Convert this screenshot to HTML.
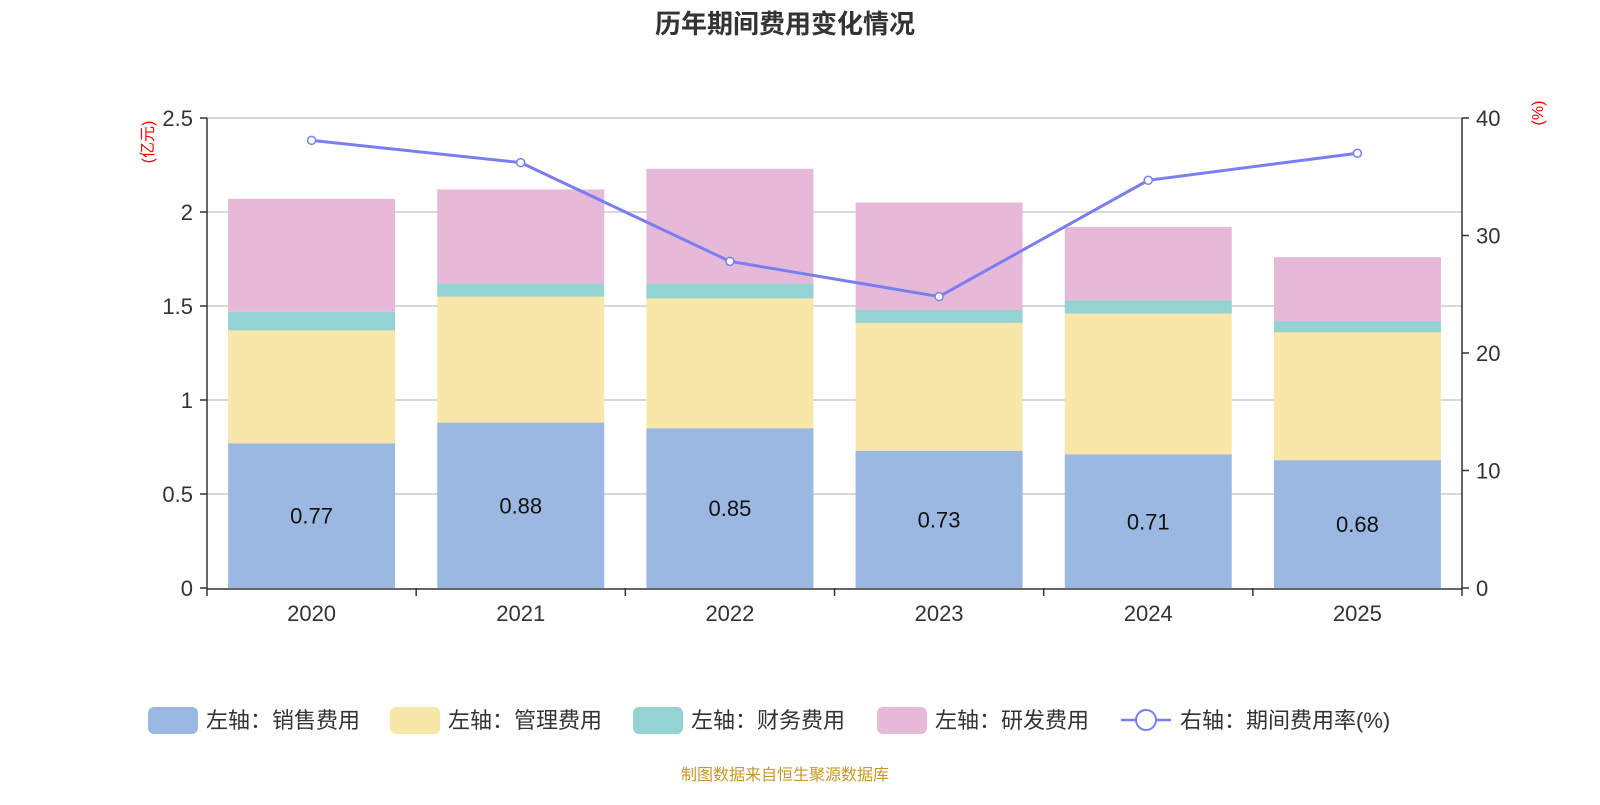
<!DOCTYPE html>
<html><head><meta charset="utf-8"><style>
body{margin:0;background:#fff;}
svg text{font-family:"Liberation Sans","Noto Sans CJK SC",sans-serif;}
</style></head><body>
<svg id="c" width="1600" height="800" xmlns="http://www.w3.org/2000/svg">
<text x="785" y="33" text-anchor="middle" font-size="26" font-weight="bold" fill="#333">历年期间费用变化情况</text>
<g id="grid"></g><g id="bars"></g><g id="axes"></g><g id="line"></g>
<text transform="translate(153,142) rotate(-90)" text-anchor="middle" font-size="16" fill="red">(亿元)</text>
<text transform="translate(1543,113) rotate(-90)" text-anchor="middle" font-size="16" fill="red">(%)</text>
<g id="legend"></g>
<text x="785" y="780" text-anchor="middle" font-size="16" fill="#c8962a">制图数据来自恒生聚源数据库</text>
</svg>
<script>
const years=["2020","2021","2022","2023","2024","2025"];
const sales=[0.77,0.88,0.85,0.73,0.71,0.68];
const mgmt=[0.60,0.67,0.69,0.68,0.75,0.68];
const fin=[0.10,0.07,0.08,0.07,0.07,0.06];
const rd=[0.60,0.50,0.61,0.57,0.39,0.34];
const rate=[38.1,36.2,27.8,24.8,34.7,37.0];
const leftTicks=["0","0.5","1","1.5","2","2.5"];
const rightTicks=["0","10","20","30","40"];
const NS="http://www.w3.org/2000/svg";
const X0=207,X1=1462,Y0=588,Y1=118;
const yL=v=>Y0-(v/2.5)*(Y0-Y1);
const yR=v=>Y0-(v/40)*(Y0-Y1);
const bw=(X1-X0)/years.length;
const xc=i=>X0+bw*(i+0.5);
function mk(t,a,p){const e=document.createElementNS(NS,t);for(const k in a)e.setAttribute(k,a[k]);(p||document.getElementById('c')).appendChild(e);return e;}
const grid=document.getElementById('grid'),axes=document.getElementById('axes'),bars=document.getElementById('bars'),line=document.getElementById('line'),leg=document.getElementById('legend');
leftTicks.forEach(t=>{const y=yL(parseFloat(t));
 if(parseFloat(t)>0){const g=mk('line',{x1:X0,x2:X1,y1:y,y2:y,stroke:'#ccc','stroke-width':1.5},grid);}
 mk('line',{x1:X0-7,x2:X0,y1:y,y2:y,stroke:'#333','stroke-width':1.5},axes);
 const tx=mk('text',{x:X0-14,y:y+8,'text-anchor':'end','font-size':22,fill:'#333'},axes);tx.textContent=t;
 });
rightTicks.forEach(t=>{const y=yR(parseFloat(t));
 mk('line',{x1:X1,x2:X1+7,y1:y,y2:y,stroke:'#333','stroke-width':1.5},axes);
 const tx=mk('text',{x:X1+14,y:y+8,'font-size':22,fill:'#333'},axes);tx.textContent=t;
 });
mk('line',{x1:X0,x2:X0,y1:Y1,y2:Y0,stroke:'#333','stroke-width':1.5},axes);
mk('line',{x1:X1,x2:X1,y1:Y1,y2:Y0,stroke:'#333','stroke-width':1.5},axes);
mk('line',{x1:X0,x2:X1,y1:Y0+1,y2:Y0+1,stroke:'#333','stroke-width':1.5},axes);
for(let i=0;i<=years.length;i++){const x=X0+bw*i;mk('line',{x1:x,x2:x,y1:Y0,y2:Y0+8,stroke:'#333','stroke-width':1.5},axes);}
const series=[[sales,'#9bb8e2','sales'],[mgmt,'#f8e7a9','mgmt'],[fin,'#94d2d3','fin'],[rd,'#e7b9d9','rd']];
const barW=167;
years.forEach((yr,i)=>{let acc=0;
 series.forEach(([arr,col,nm])=>{const y0=yL(acc),y1=yL(acc+arr[i]);
  const r=mk('rect',{x:xc(i)-barW/2,y:y1,width:barW,height:y0-y1,fill:col},bars);
  acc+=arr[i];});
 const lb=mk('text',{x:xc(i),y:(yL(0)+yL(sales[i]))/2+8,'text-anchor':'middle','font-size':22,fill:'#111'},bars);lb.textContent=sales[i].toFixed(2);
 
 const xl=mk('text',{x:xc(i),y:Y0+33,'text-anchor':'middle','font-size':22,fill:'#333'},axes);xl.textContent=yr;
 });
const pl=mk('polyline',{points:rate.map((v,i)=>xc(i)+','+yR(v)).join(' '),fill:'none',stroke:'#7b7ef0','stroke-width':3},line);

rate.forEach((v,i)=>{const c=mk('circle',{cx:xc(i),cy:yR(v),r:4,fill:'#fff',stroke:'#7b7ef0','stroke-width':1.5},line);
 });
const items=[['#9bb8e2','左轴：销售费用',148],['#f8e7a9','左轴：管理费用',390],['#94d2d3','左轴：财务费用',633],['#e7b9d9','左轴：研发费用',877]];
items.forEach(([col,lab,x])=>{const r=mk('rect',{x:x,y:707,width:50,height:27,rx:6,fill:col},leg);
 
 const t=mk('text',{x:x+58,y:728,'font-size':22,fill:'#333'},leg);t.textContent=lab;
 });
mk('line',{x1:1121,x2:1171,y1:720,y2:720,stroke:'#7b7ef0','stroke-width':2.5},leg);
const lc=mk('circle',{cx:1146,cy:720,r:10,fill:'#fff',stroke:'#7b7ef0','stroke-width':2},leg);

const lt=mk('text',{x:1180,y:728,'font-size':22,fill:'#333'},leg);lt.textContent='右轴：期间费用率(%)';

</script>
</body></html>
